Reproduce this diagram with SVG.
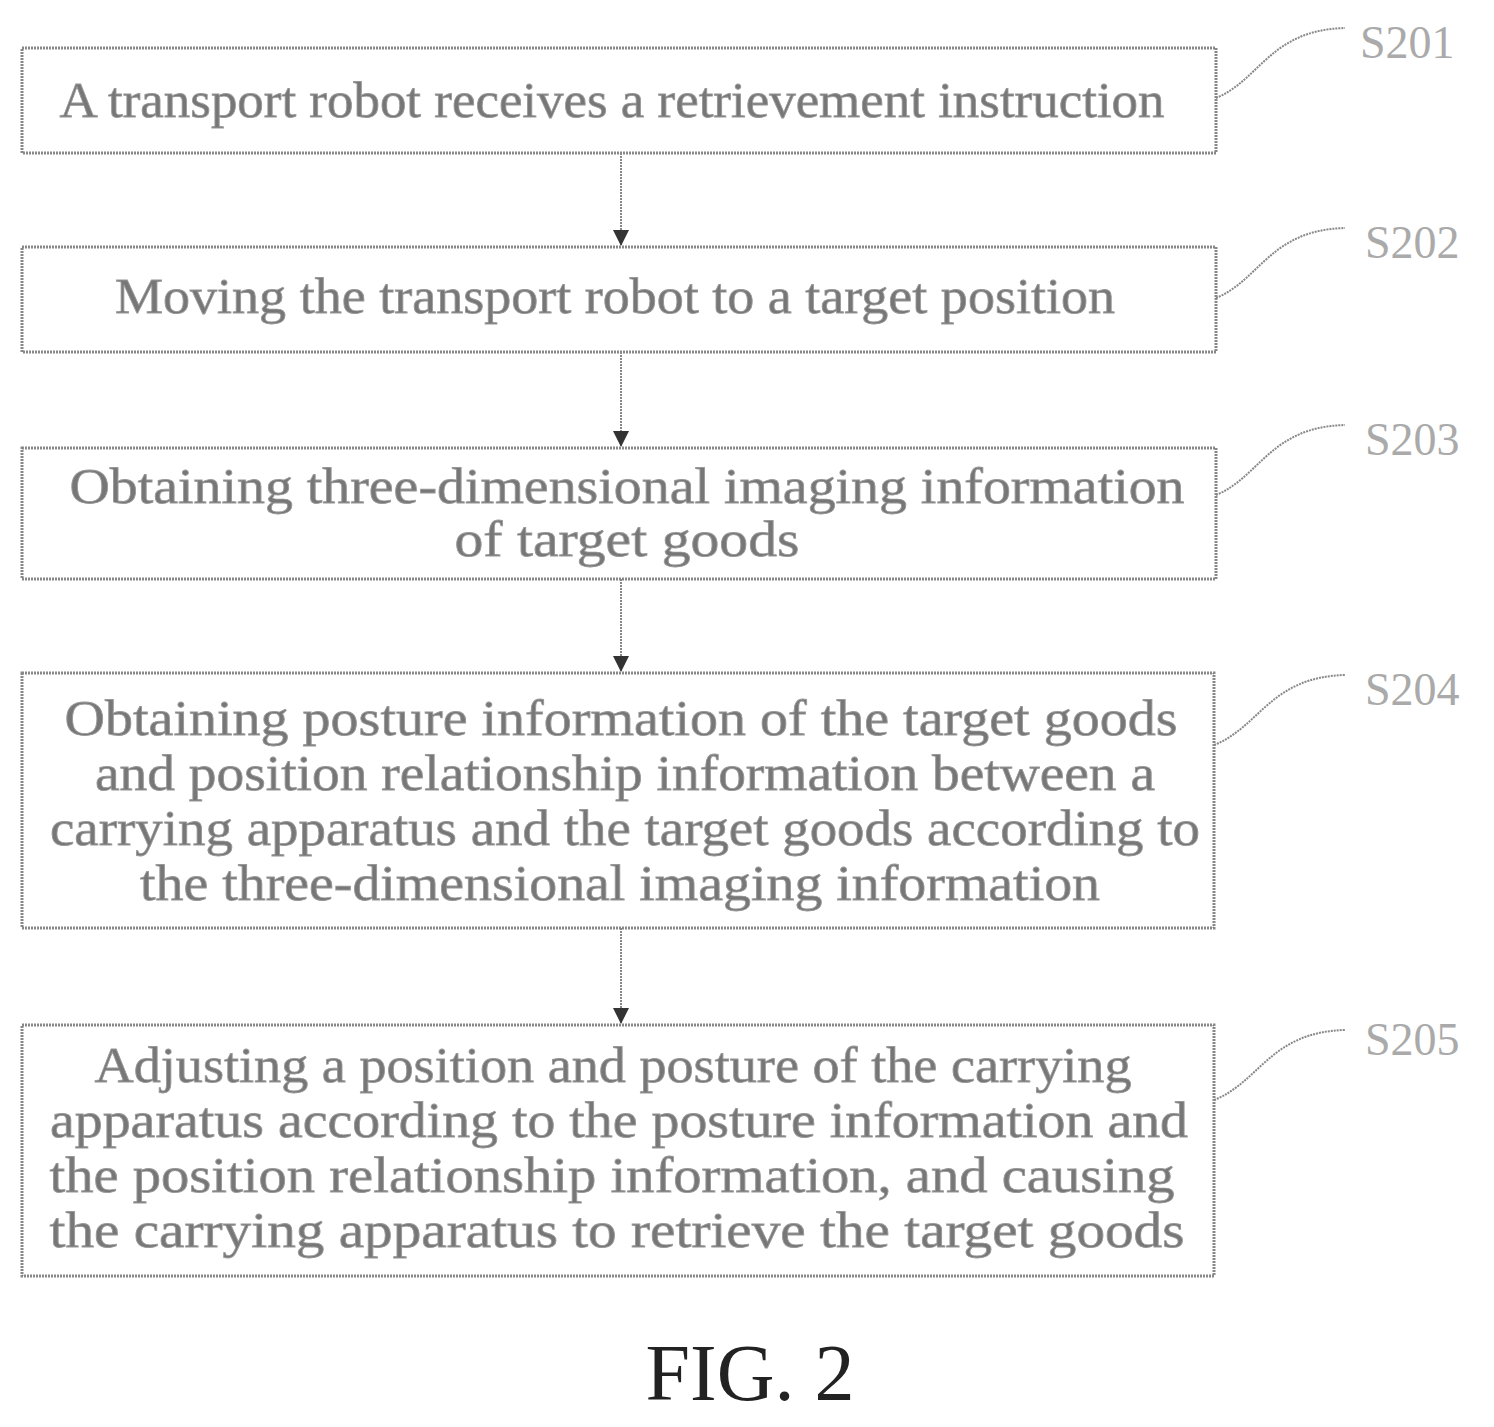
<svg xmlns="http://www.w3.org/2000/svg" width="1494" height="1427" viewBox="0 0 1494 1427">
<style>
.box{fill:none;stroke:#888;stroke-width:3;stroke-dasharray:2 1}
.t{font-family:"Liberation Serif",serif;font-size:50px;fill:#777;stroke:#999;stroke-width:0.8;text-anchor:middle}
.lab{font-family:"Liberation Serif",serif;font-size:46px;fill:#aaa}
.c{fill:none;stroke:#888;stroke-width:2;stroke-dasharray:2 1}
</style>
<defs><marker id="ah" markerWidth="16" markerHeight="16" refX="15" refY="8" orient="auto" markerUnits="userSpaceOnUse"><path d="M0,0 L16,8 L0,16 z" fill="#333"/></marker></defs>
<rect width="1494" height="1427" fill="#fff"/>
<g id="connectors">
<path class="c" d="M621,153 V245" marker-end="url(#ah)"/>
<path class="c" d="M621,352 V446" marker-end="url(#ah)"/>
<path class="c" d="M621,579 V671" marker-end="url(#ah)"/>
<path class="c" d="M621,928 V1023" marker-end="url(#ah)"/>
<path class="c" d="M1216,98 C1260,80 1270,30 1345,28"/>
<path class="c" d="M1216,298 C1260,280 1270,230 1345,228"/>
<path class="c" d="M1216,495 C1260,477 1270,427 1345,425"/>
<path class="c" d="M1214,745 C1260,727 1270,677 1345,675"/>
<path class="c" d="M1214,1100 C1260,1082 1270,1032 1345,1030"/>
</g>
<g id="S201"><rect class="box" x="22" y="48" width="1194" height="105"/><text class="t" x="612" y="117" textLength="1105" lengthAdjust="spacingAndGlyphs">A  transport robot  receives a  retrievement  instruction</text><text class="lab" x="1360" y="58">S201</text></g>
<g id="S202"><rect class="box" x="22" y="247" width="1194" height="105"/><text class="t" x="615" y="313" textLength="1000" lengthAdjust="spacingAndGlyphs">Moving the  transport robot  to a target position</text><text class="lab" x="1365" y="258">S202</text></g>
<g id="S203"><rect class="box" x="22" y="448" width="1194" height="131"/><text class="t" x="627" y="503" textLength="1115" lengthAdjust="spacingAndGlyphs">Obtaining three-dimensional imaging information</text><text class="t" x="627" y="556" textLength="345" lengthAdjust="spacingAndGlyphs">of target goods</text><text class="lab" x="1365" y="455">S203</text></g>
<g id="S204"><rect class="box" x="22" y="673" width="1192" height="255"/><text class="t" x="621" y="735" textLength="1113" lengthAdjust="spacingAndGlyphs">Obtaining posture information of the target goods</text><text class="t" x="625" y="790" textLength="1060" lengthAdjust="spacingAndGlyphs">and position relationship information between a</text><text class="t" x="625" y="845" textLength="1150" lengthAdjust="spacingAndGlyphs">carrying apparatus and the target goods according to</text><text class="t" x="620" y="900" textLength="960" lengthAdjust="spacingAndGlyphs">the three-dimensional imaging information</text><text class="lab" x="1365" y="705">S204</text></g>
<g id="S205"><rect class="box" x="22" y="1025" width="1192" height="251"/><text class="t" x="613" y="1082" textLength="1037" lengthAdjust="spacingAndGlyphs">Adjusting a position and posture of the carrying</text><text class="t" x="619" y="1137" textLength="1138" lengthAdjust="spacingAndGlyphs">apparatus according to the posture information and</text><text class="t" x="612" y="1192" textLength="1125" lengthAdjust="spacingAndGlyphs">the position relationship information, and causing</text><text class="t" x="617" y="1247" textLength="1135" lengthAdjust="spacingAndGlyphs">the  carrying  apparatus to retrieve    the target goods</text><text class="lab" x="1365" y="1055">S205</text></g>
<text x="750" y="1400" font-family="Liberation Serif,serif" font-size="80" fill="#222" text-anchor="middle">FIG. 2</text>
</svg>
